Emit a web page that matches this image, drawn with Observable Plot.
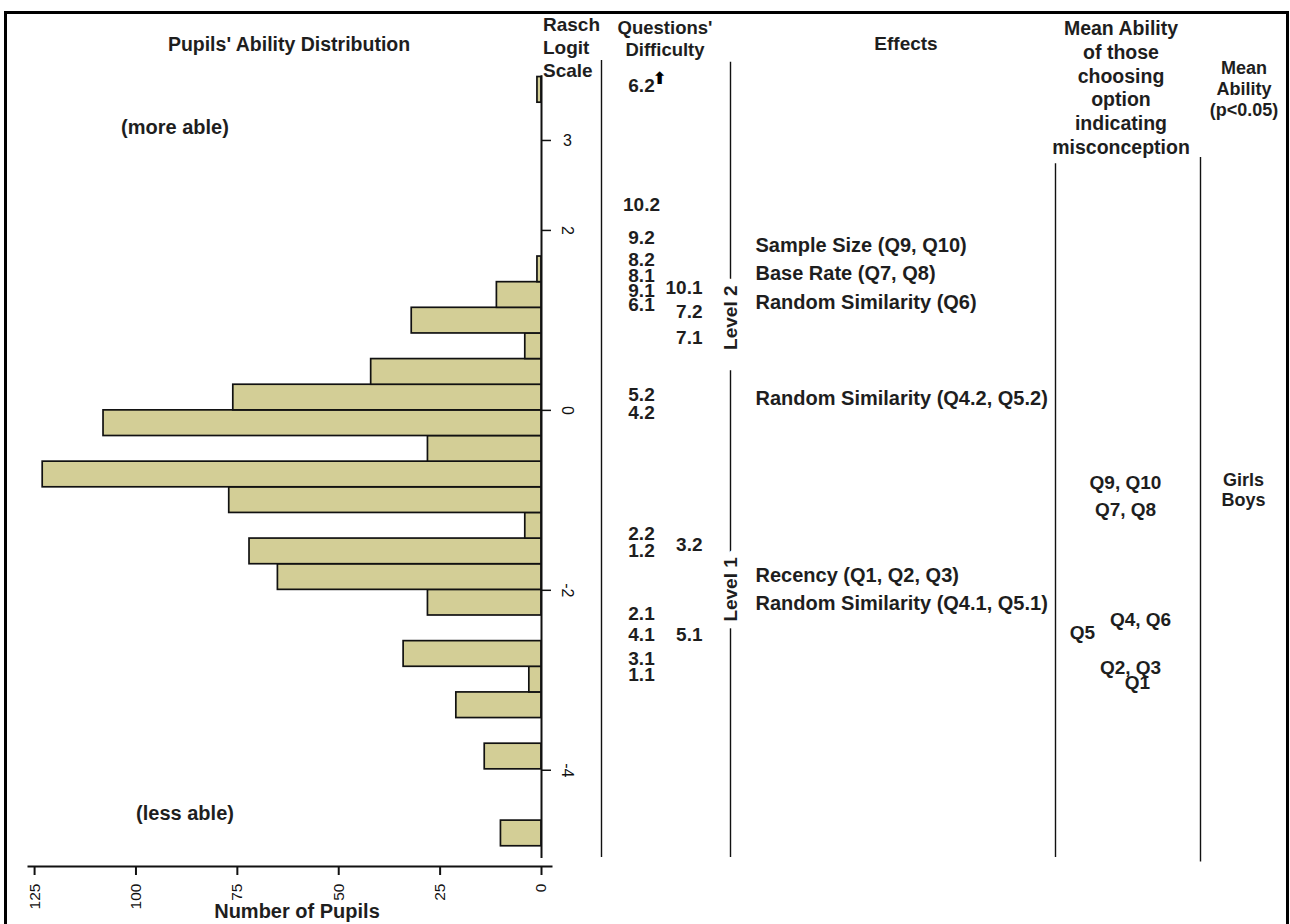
<!DOCTYPE html>
<html><head><meta charset="utf-8">
<script src="https://cdn.jsdelivr.net/npm/d3@7"></script>
<script src="https://cdn.jsdelivr.net/npm/@observablehq/plot@0.6"></script>
<style>
body{margin:0;background:#fff;}
#wrap{position:relative;width:1290px;height:924px;overflow:hidden;font-family:"Liberation Sans",Arial,sans-serif;background:#fff;}
#border{position:absolute;left:4px;top:11px;width:1279px;height:960px;border:3px solid #000;}
.lbl{position:absolute;font-weight:bold;color:#1e1e1e;white-space:pre;}
#wrap svg{position:absolute;left:0;top:0;}
</style></head><body><div id="wrap"><div id="border"></div></div>
<script>
// ---------- data ----------
const binWidth = 0.285;
const binStarts = [-4.845,-4.56,-4.275,-3.99,-3.705,-3.42,-3.135,-2.85,-2.565,-2.28,
                   -1.995,-1.71,-1.425,-1.14,-0.855,-0.57,-0.285,0,0.285,0.57,
                   0.855,1.14,1.425,1.71,1.995,2.28,2.565,2.85,3.135,3.42];
const pupilCounts = [10,0,0,14,0,21,3,34,0,28,
                     65,72,4,77,123,28,108,76,42,4,
                     32,11,1,0,0,0,0,0,0,1];
const countTicks = [0,25,50,75,100,125];
const logitTicks = [3,2,0,-2,-4];

const diffLabels = ["6.2","10.2","9.2","8.2","8.1","9.1","6.1","10.1","7.2","7.1","5.2","4.2","2.2","1.2","3.2","2.1","4.1","5.1","3.1","1.1"];
const diffLogits = [3.61,2.28,1.92,1.67,1.49,1.33,1.17,1.36,1.09,0.81,0.17,-0.03,-1.37,-1.56,-1.50,-2.26,-2.50,-2.50,-2.76,-2.94];
const diffColumn = [1,1,1,1,1,1,1,2,2,2,1,1,1,1,2,1,1,2,1,1];
const offScale = ["6.2"];

const effectLabels = ["Sample Size (Q9, Q10)","Base Rate (Q7, Q8)","Random Similarity (Q6)","Random Similarity (Q4.2, Q5.2)","Recency (Q1, Q2, Q3)","Random Similarity (Q4.1, Q5.1)"];
const effectLogits = [1.83,1.52,1.20,0.13,-1.84,-2.15];

const misconLabels = ["Q9, Q10","Q7, Q8","Q4, Q6","Q5","Q2, Q3","Q1"];
const misconLogits = [-0.81,-1.11,-2.33,-2.47,-2.86,-3.03];

const genderLabels = ["Girls","Boys"];
const genderLogits = [-0.78,-1.0];

const levelNames = ["Level 2","Level 1"];
const levelTop = [3.87,0.44];
const levelBottom = [0.67,-4.97];
const levelLabelAt = [1.03,-1.99];

// ---------- layout (pixels / styling only) ----------
const W = 1290, H = 924, MT = 50, MB = 58;
const yDomain = [-5.07, 4];
const xDomain = [126.5, 0];
const AW = 620, AML = 28, AMR = 79;
const pxPerCount = (AW - AML - AMR) / (xDomain[0] - xDomain[1]);
const tickLen = 10 / pxPerCount;           // 10px tick in count units
const axisExtent = [-4.98, 3.72];
const colX = {diff1: 641, diff2: 702, level: 730, effects: 755, miscon: 1125, gender: 1243};
const misconDx = [0,0,15,-43,5,12];
const separators = [{x:601, top:3.89, bottom:-4.97},{x:1055, top:2.74, bottom:-4.97},{x:1200, top:2.81, bottom:-5.02}];
const font = '"Liberation Sans", Arial, sans-serif';
const ink = "#1e1e1e";

const bins = binStarts.map((lo,i)=>({lo, hi: lo + binWidth, n: pupilCounts[i]})).filter(d=>d.n>0);
const diffs = diffLabels.map((t,i)=>({t, v: diffLogits[i], col: diffColumn[i]}));
const effects = effectLabels.map((t,i)=>({t, v: effectLogits[i]}));
const miscon = misconLabels.map((t,i)=>({t, v: misconLogits[i], dx: misconDx[i]}));
const gender = genderLabels.map((t,i)=>({t, v: genderLogits[i]}));
const levels = levelNames.map((t,i)=>({t, top: levelTop[i], bottom: levelBottom[i], mid: levelLabelAt[i]}));

const wrap = document.getElementById("wrap");

// ---------- histogram ----------
const A = Plot.plot({
  width: AW, height: H, marginLeft: AML, marginRight: AMR, marginTop: MT, marginBottom: MB,
  x: {domain: xDomain}, y: {domain: yDomain, axis: null},
  style: {fontFamily: font, background: "transparent", color: "#111", overflow: "visible"},
  marks: [
    Plot.rectX(bins, {x1: 0, x2: "n", y1: "lo", y2: "hi", fill: "#d3ce96", stroke: "#111", strokeWidth: 1.7}),
    Plot.ruleX([0], {y1: axisExtent[0], y2: axisExtent[1], stroke: "#111", strokeWidth: 2}),
    Plot.frame({anchor: "bottom", insetRight: -10, stroke: "#111", strokeWidth: 2}),
    Plot.axisX({anchor: "bottom", ticks: countTicks, tickSize: 9, tickRotate: -90, tickPadding: 8, fontSize: 15.5, label: null, strokeWidth: 2}),
    // logit scale ticks and labels (right of the zero line)
    Plot.ruleY(logitTicks, {y: d => d, x1: 0, x2: -tickLen, stroke: "#111", strokeWidth: 1.5}),
    Plot.text(logitTicks, {y: d => d, x: 0, dx: 26, text: d => String(d), rotate: d => d === 3 ? 0 : 90, fontSize: 16, fill: "#111"})
  ]
});
wrap.appendChild(A);

// ---------- right-hand panels ----------
const txt = {fontFamily: font, fontWeight: "bold", fill: ink};
const B = Plot.plot({
  width: W, height: H, marginLeft: 0, marginRight: 0, marginTop: MT, marginBottom: MB,
  x: {type: "identity", axis: null}, y: {domain: yDomain, axis: null},
  style: {fontFamily: font, background: "transparent", overflow: "visible"},
  marks: [
    Plot.ruleX(separators, {x: "x", y1: "top", y2: "bottom", stroke: "#111", strokeWidth: 1.4}),
    Plot.ruleX(levels, {x: () => colX.level, y1: "top", y2: "bottom", stroke: "#111", strokeWidth: 1.4}),
    Plot.text(levels, {x: () => colX.level, y: "mid", text: "t", rotate: -90, fontSize: 19, stroke: "white", strokeWidth: 16, ...txt}),
    Plot.text(diffs.filter(d=>d.col===1), {x: () => colX.diff1, y: "v", text: "t", fontSize: 19, textAnchor: "middle", ...txt}),
    Plot.text(diffs.filter(d=>d.col===2), {x: () => colX.diff2, y: "v", text: "t", fontSize: 19, textAnchor: "end", ...txt}),
    Plot.text(diffs.filter(d=>offScale.includes(d.t)), {x: () => colX.diff1, y: "v", text: () => "⬆", dx: 18, dy: -7, fontSize: 17, fontFamily: "DejaVu Sans", fontWeight: "bold", fill: "#000"}),
    Plot.text(effects, {x: () => colX.effects, y: "v", text: "t", fontSize: 20, textAnchor: "start", ...txt}),
    Plot.text(miscon, {x: d => colX.miscon + d.dx, y: "v", text: "t", fontSize: 19, ...txt}),
    Plot.text(gender, {x: () => colX.gender, y: "v", text: "t", fontSize: 18, lineHeight: 1, ...txt})
  ]
});
wrap.appendChild(B);

// ---------- headers & annotations ----------
function label(text, x, y, size, lh, align){
  const d = document.createElement("div");
  d.className = "lbl";
  d.textContent = text;
  d.style.fontSize = size + "px";
  d.style.lineHeight = lh + "px";
  d.style.textAlign = align || "center";
  d.style.left = x + "px"; d.style.top = y + "px";
  d.style.transform = align === "left" ? "translate(0,-50%)" : "translate(-50%,-50%)";
  wrap.appendChild(d);
}
label("Pupils' Ability Distribution", 289, 44, 19.5, 22);
label("(more able)", 175, 127, 20, 22);
label("(less able)", 185, 813, 20, 22);
label("Rasch\nLogit\nScale", 543, 47, 19, 23, "left");
label("Questions'\nDifficulty", 665, 39, 18.5, 22);
label("Effects", 906, 44, 19, 22);
label("Mean Ability\nof those\nchoosing\noption\nindicating\nmisconception", 1121, 88, 19.5, 23.8);
label("Mean\nAbility\n(p<0.05)", 1244, 89, 18, 21);
label("Number of Pupils", 297, 911, 20, 20);
</script></body></html>
